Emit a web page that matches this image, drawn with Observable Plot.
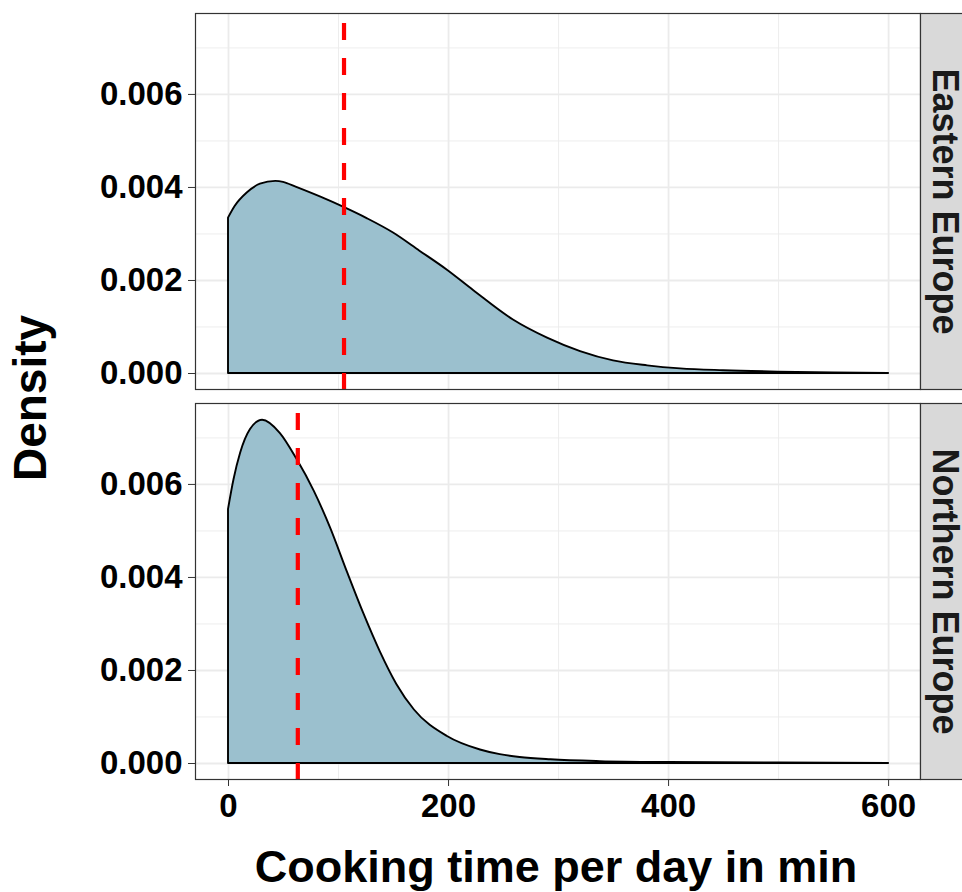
<!DOCTYPE html>
<html>
<head>
<meta charset="utf-8">
<script src="https://cdn.jsdelivr.net/npm/d3@7"></script>
<script src="https://cdn.jsdelivr.net/npm/@observablehq/plot@0.6"></script>
<style>
  html, body { margin: 0; padding: 0; background: white; }
  #wrap { position: relative; width: 962px; height: 892px; overflow: hidden; }
  .title { position: absolute; font-family: 'Liberation Sans', Arial, sans-serif; font-weight: bold; color: black; white-space: nowrap; line-height: 1; }
  #xtitle { font-size: 45px; left: 556px; top: 844px; transform: translateX(-50%); }
  #ytitle { font-size: 46px; left: 30px; top: 398px; transform: translate(-50%, -50%) rotate(-90deg); }
</style>
</head>
<body>
<div id="wrap">
  <div id="chart"></div>
  <div class="title" id="ytitle">Density</div>
  <div class="title" id="xtitle">Cooking time per day in min</div>
</div>
<script>
// ---- data ----
const regions = ["Eastern Europe", "Northern Europe"];

const easternX = [0, 6, 17, 29, 43, 50, 62, 84, 105, 126, 150, 174, 199, 223, 259, 290, 320, 350, 381, 411, 450, 500, 550, 600];
const easternDensity = [0.00334, 0.00359, 0.00388, 0.00407, 0.00413, 0.00411, 0.00400, 0.00379, 0.00357, 0.00333, 0.00302, 0.00263, 0.00222, 0.00178, 0.00115, 0.00076, 0.00047, 0.00027, 0.000165, 0.0001, 0.00006, 0.00003, 0.000012, 0.000003];

const northernX = [0, 5, 11, 20, 31, 47, 62, 78, 93, 108, 123, 138, 153, 169, 199, 229, 247, 265, 293, 338, 400, 500, 600];
const northernDensity = [0.00546, 0.0061, 0.00667, 0.00718, 0.00738, 0.0071, 0.00655, 0.00585, 0.00505, 0.00412, 0.00322, 0.0024, 0.0017, 0.00115, 0.00058, 0.00029, 0.00019, 0.00013, 0.00008, 0.00004, 0.00002, 0.00001, 0.000003];

const medians = [105, 63]; // per region, same order as regions

const xTicks = [0, 200, 400, 600];
const xMinorTicks = [100, 300, 500];
const yTicks = [0, 0.002, 0.004, 0.006];
const yMinorTicks = [0.001, 0.003, 0.005, 0.007];

// ---- tables built from the arrays ----
const densityRows = [
  ...easternX.map((x, i) => ({region: regions[0], x, density: easternDensity[i]})),
  ...northernX.map((x, i) => ({region: regions[1], x, density: northernDensity[i]}))
];
const medianRows = regions.map((region, i) => ({region, median: medians[i]}));
const stripRows = regions.map(region => ({region}));

// ---- layout ----
const W = 962, H = 892;
const mLeft = 195, mRight = 42, mTop = 12, mBottom = 113;
const frameW = W - mLeft - mRight;

const chart = Plot.plot({
  width: W,
  height: H,
  marginLeft: mLeft,
  marginRight: mRight,
  marginTop: mTop,
  marginBottom: mBottom,
  style: {
    fontFamily: "'Liberation Sans', Arial, sans-serif",
    fontWeight: "bold",
    fontSize: "33px",
    color: "black",
    background: "white",
    overflow: "hidden"
  },
  x: {domain: [-30, 629], label: null},
  y: {domain: [-0.000344, 0.00774], label: null},
  fy: {domain: regions, paddingInner: 0.0359, paddingOuter: 0, axis: null, label: null},
  marks: [
    Plot.gridX(xMinorTicks, {stroke: "#ebebeb", strokeOpacity: 1, strokeWidth: 0.9}),
    Plot.gridY(yMinorTicks, {stroke: "#ebebeb", strokeOpacity: 1, strokeWidth: 0.9}),
    Plot.gridX(xTicks, {stroke: "#ebebeb", strokeOpacity: 1, strokeWidth: 1.8}),
    Plot.gridY(yTicks, {stroke: "#ebebeb", strokeOpacity: 1, strokeWidth: 1.8}),
    Plot.areaY(densityRows, {
      x: "x", y: "density", fy: "region", z: "region",
      curve: "monotone-x",
      fill: "#9bc0ce", stroke: "black", strokeWidth: 1.9, strokeLinejoin: "round"
    }),
    Plot.ruleX(medianRows, {
      x: "median", fy: "region",
      stroke: "#ff0000", strokeWidth: 4.2,
      strokeDasharray: "17,18", strokeDashoffset: 25
    }),
    Plot.frame({stroke: "#333333", strokeWidth: 1.2}),
    Plot.frame({fill: "#d9d9d9", stroke: "#333333", strokeWidth: 1.2, insetLeft: frameW, insetRight: -46}),
    Plot.text(stripRows, {
      fy: "region", text: "region",
      frameAnchor: "right", textAnchor: "middle", lineAnchor: "middle",
      dx: 24, rotate: 90,
      fontSize: 36, fontWeight: "bold", fill: "#1a1a1a"
    }),
    Plot.axisY(yTicks, {
      tickFormat: d3.format(".3f"), tickSize: 7, tickPadding: 6,
      stroke: "#333333", label: null, fontSize: 33, fontWeight: "bold"
    }),
    Plot.axisX(xTicks, {
      tickSize: 7, tickPadding: 7,
      stroke: "#333333", label: null, fontSize: 33, fontWeight: "bold"
    })
  ]
});

document.getElementById("chart").appendChild(chart);
</script>
</body>
</html>
